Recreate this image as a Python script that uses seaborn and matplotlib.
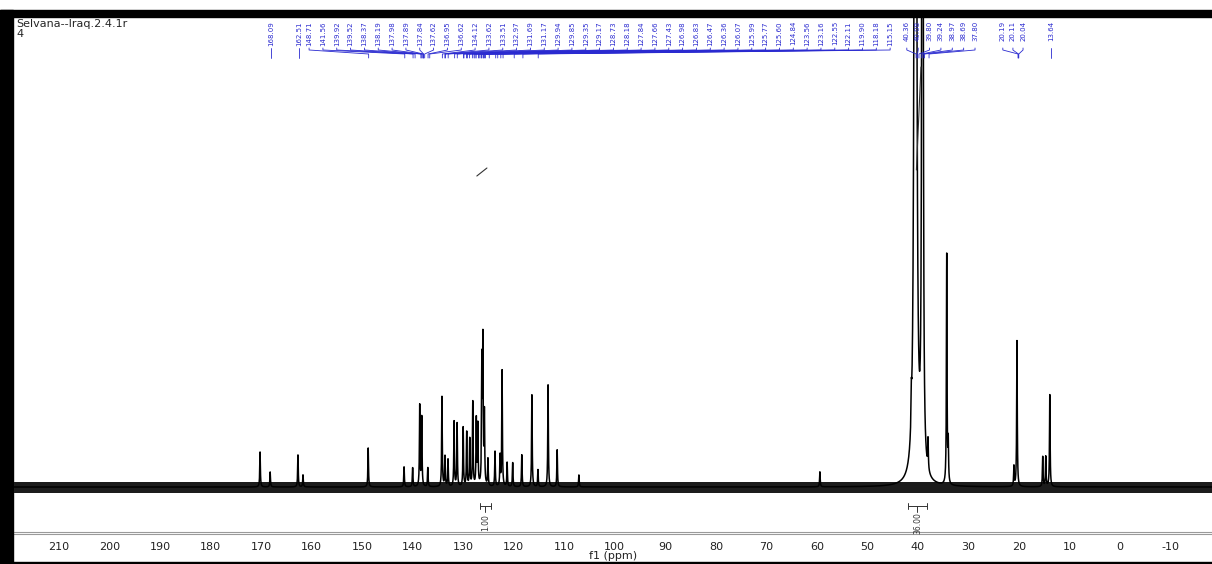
import numpy as np
import pandas as pd
import matplotlib
matplotlib.use("Agg")
import matplotlib.pyplot as plt
from matplotlib.patches import Rectangle
import seaborn as sns

# peaks: position (ppm) and height (px above baseline)
peak_ppm = [170.2, 168.2, 162.7, 161.7, 148.8, 141.7, 140.0, 138.6, 138.2, 137.0,
            134.2, 133.6, 133.0, 131.8, 131.2, 130.0, 129.3, 128.7, 128.1, 127.4,
            127.1, 126.3, 126.1, 125.8, 125.1, 123.7, 122.7, 122.3, 121.3, 120.2,
            118.4, 116.4, 115.2, 113.2, 111.4, 107.1, 59.4,
            41.3, 38.0, 34.3, 34.0, 21.0, 20.4, 15.3, 14.7, 13.9]
peak_height = [35, 15, 32, 12, 39, 20, 19, 81, 69, 19,
               90, 30, 27, 65, 63, 59, 54, 47, 84, 66,
               60, 120, 140, 70, 27, 35, 30, 116, 24, 24,
               32, 92, 17, 102, 37, 12, 15,
               30, 30, 230, 40, 20, 146, 30, 30, 92]
peak_gamma = 0.07

# DMSO solvent multiplet (off scale), two edges
solvent_ppm = [40.5, 39.1]
solvent_height = [6000, 6000]
solvent_gamma = [0.09, 0.05]

# peak picking labels
single_labels = ["168.09", "162.51"]
group1_labels = ["148.71", "141.56", "139.92", "139.52", "138.37", "138.19", "137.98",
                 "137.89", "137.84", "137.62", "136.95", "136.62", "134.12", "133.62",
                 "133.51", "132.97", "131.69", "131.17", "129.94", "129.85", "129.35",
                 "129.17", "128.73", "128.18", "127.84", "127.66", "127.43", "126.98",
                 "126.83", "126.47", "126.36", "126.07", "125.99", "125.77", "125.60",
                 "124.84", "123.56", "123.16", "122.55", "122.11", "119.90", "118.18",
                 "115.15"]
group2_labels = ["40.36", "40.08", "39.80", "39.24", "38.97", "38.69", "37.80"]
group3_labels = ["20.19", "20.11", "20.04"]
last_labels = ["13.64"]

# integrals: (from ppm, to ppm, value)
integral_from = [126.7, 42.0]
integral_to = [124.5, 38.2]
integral_text = ["1.00", "36.00"]

ppm = np.arange(-18.3, 219.0, 0.01)
inten = np.zeros_like(ppm)
for p, h in zip(peak_ppm, peak_height):
    inten += h * peak_gamma**2 / ((ppm - p)**2 + peak_gamma**2)
for p, h, g in zip(solvent_ppm, solvent_height, solvent_gamma):
    inten += h * g**2 / ((ppm - p)**2 + g**2)
spec = pd.DataFrame({"ppm": ppm, "intensity": inten})

sns.set_style("white")
plt.rcParams["axes.unicode_minus"] = False
W, H = 1212, 564
fig = plt.figure(figsize=(W / 100, H / 100), dpi=100)
ax = fig.add_axes([14 / W, 30 / H, 1 - 14 / W, 517 / H])

ax.fill_between(ppm, -5.5, 5.5, color="#1c1c1c", lw=0, zorder=1)
sns.lineplot(data=spec, x="ppm", y="intensity", ax=ax, color="black", lw=1.1,
             estimator=None, sort=False, zorder=2)

ax.set_xlim(218.9, -18.2)
ax.set_ylim(-47, 470)
ax.axhline(-45, color="#9a9a9a", lw=0.8)
for s in ["top", "left", "right"]:
    ax.spines[s].set_visible(False)
ax.spines["bottom"].set_color("#9a9a9a")
ax.spines["bottom"].set_linewidth(0.8)
ax.set_yticks([])
ax.set_xticks(np.arange(210, -11, -10))
ax.set_xticks(np.arange(215, -16, -5), minor=True)
ax.tick_params(axis="x", which="major", length=2.5, width=0.7, color="#555555",
               labelsize=8, labelcolor="#222222", pad=3.5)
ax.tick_params(axis="x", which="minor", length=1.5, width=0.7, color="#555555")
ax.set_xlabel("f1 (ppm)", fontsize=8, color="#222222", labelpad=-1)
ax.set_ylabel("")

blue = "#2a2ad0"


def draw_labels(labels, xs):
    for lab, lx in zip(labels, xs):
        val = float(lab)
        ax.text(lx, 466, lab, rotation=90, fontsize=5, color=blue,
                ha="center", va="top")
        ax.plot([lx, lx, val, val], [439, 437, 433, 429], color=blue, lw=0.6)


draw_labels(single_labels, [float(v) for v in single_labels])
draw_labels(group1_labels, np.linspace(160.5, 45.5, len(group1_labels)))
draw_labels(group2_labels, np.linspace(42.2, 28.7, len(group2_labels)))
draw_labels(group3_labels, np.linspace(23.2, 19.2, len(group3_labels)))
draw_labels(last_labels, [float(v) for v in last_labels])

# integral brackets
for a, b, t in zip(integral_from, integral_to, integral_text):
    mid = (a + b) / 2
    ax.plot([a, b], [-19, -19], color="#333333", lw=0.7)
    ax.plot([a, a], [-16, -22], color="#333333", lw=0.7)
    ax.plot([b, b], [-16, -22], color="#333333", lw=0.7)
    ax.plot([mid, mid], [-19, -25], color="#333333", lw=0.7)
    ax.text(mid, -36, t, rotation=90, fontsize=5.5, color="#333333",
            ha="center", va="center")

# integral curves
ax.plot([127.3, 125.3], [311, 319], color="#333333", lw=0.8)
ax.plot([40.3, 39.4], [317, 420], color="#333333", lw=0.8)

fig.text(16 / W, 1 - 19 / H, "Selvana--Iraq.2.4.1r", fontsize=8, va="top")
fig.text(16 / W, 1 - 29 / H, "4", fontsize=8, va="top")

# black screenshot frame
fig.patches.append(Rectangle((0, 0), 13 / W, (H - 10) / H, transform=fig.transFigure,
                             color="black", zorder=10))
fig.patches.append(Rectangle((0, 1 - 17 / H), 1, 7 / H, transform=fig.transFigure,
                             color="black", zorder=10))
fig.patches.append(Rectangle((0, 0), 1, 2 / H, transform=fig.transFigure,
                             color="black", zorder=10))

fig.savefig("out.png", dpi=100)
